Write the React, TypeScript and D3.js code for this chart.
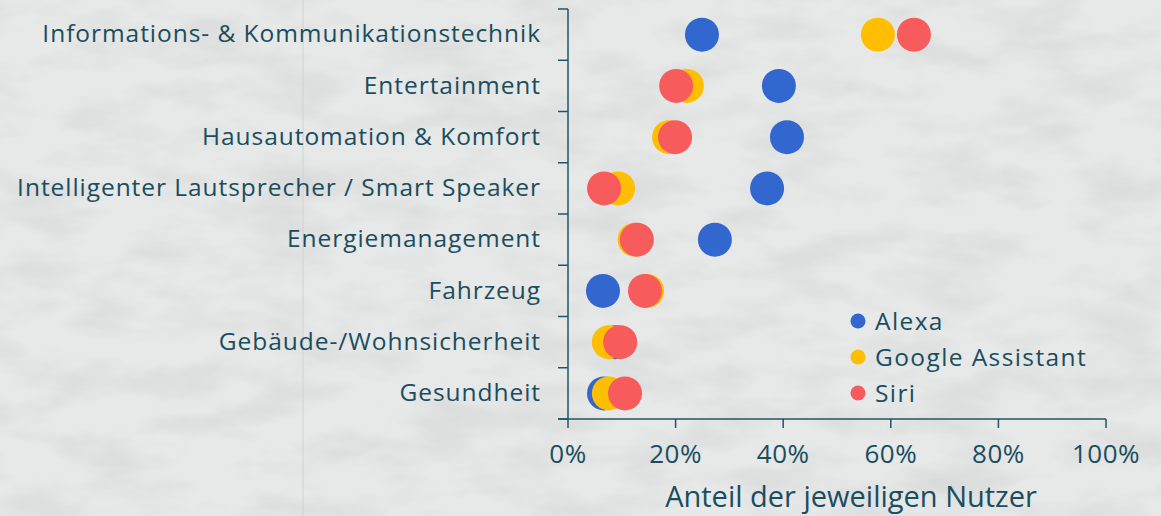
import React from "react";
import * as d3 from "d3";

const categories = [
  "Informations- & Kommunikationstechnik",
  "Entertainment",
  "Hausautomation & Komfort",
  "Intelligenter Lautsprecher / Smart Speaker",
  "Energiemanagement",
  "Fahrzeug",
  "Gebäude-/Wohnsicherheit",
  "Gesundheit",
];
const alexa = [24.9, 39.2, 40.7, 37.0, 27.3, 6.5, 8.8, 6.7];
const google = [57.6, 22.1, 18.8, 9.3, 12.4, 14.7, 7.6, 7.6];
const siri = [64.3, 20.1, 19.9, 6.7, 12.8, 14.3, 9.7, 10.6];
const seriesNames = ["Alexa", "Google Assistant", "Siri"];
const seriesColors = ["#3267cf", "#ffbf00", "#f75b5b"];
const xTicks = [0, 20, 40, 60, 80, 100];

const W = 1161;
const H = 516;
const TEXT = "#1a4d5e";
const AXIS = "#1f5666";
const FONT = "'Open Sans', Lato, sans-serif";

export default function App() {
  const x = d3.scaleLinear().domain([0, 100]).range([568, 1106]);
  const y = d3.scaleBand().domain(categories).range([9, 419]);
  const series = [alexa, google, siri];

  return (
    <div style={{ position: "fixed", left: 0, top: 0, width: W, height: H }}>
      <svg width={W} height={H} style={{ display: "block" }}>
        <defs>
          <filter id="paper" x="0" y="0" width="100%" height="100%">
            <feTurbulence type="fractalNoise" baseFrequency="0.012 0.03" numOctaves="4" seed="3" result="n" />
            <feColorMatrix type="matrix" values="0 0 0 0 0  0 0 0 0 0  0 0 0 0 0  0 0 0 -0.9 0.55" />
          </filter>
        </defs>
        <rect width={W} height={H} fill="#e7e8e8" />
        <rect width={W} height={H} filter="url(#paper)" opacity={0.12} />
        <line x1={303} x2={303} y1={0} y2={H} stroke="#d0d2d2" strokeWidth={1} />

        {/* left axis */}
        <line x1={568} x2={568} y1={9} y2={419} stroke={AXIS} strokeWidth={1.5} />
        {d3.range(categories.length + 1).map((i) => {
          const yy = 9 + i * y.step();
          return <line key={i} x1={558} x2={568} y1={yy} y2={yy} stroke={AXIS} strokeWidth={1.5} />;
        })}
        {categories.map((c) => (
          <text key={c} x={541} y={(y(c) as number) + y.bandwidth() / 2 + 7.7} textAnchor="end"
            fontFamily={FONT} fontSize={24.5} letterSpacing={0.95} fill={TEXT}>
            {c}
          </text>
        ))}

        {/* bottom axis */}
        <line x1={558} x2={1106} y1={419} y2={419} stroke={AXIS} strokeWidth={1.5} />
        {xTicks.map((t) => (
          <g key={t}>
            <line x1={x(t)} x2={x(t)} y1={419} y2={428} stroke={AXIS} strokeWidth={1.5} />
            <text x={x(t)} y={463} textAnchor="middle" fontFamily={FONT} fontSize={26} letterSpacing={0.5} fill={TEXT}>
              {t}%
            </text>
          </g>
        ))}
        <text x={851} y={507} textAnchor="middle" fontFamily={FONT} fontSize={29} fill={TEXT}>
          Anteil der jeweiligen Nutzer
        </text>

        {/* dots */}
        {series.map((vals, si) => (
          <g key={si}>
            {vals.map((v, i) => (
              <circle key={i} cx={x(v)} cy={(y(categories[i]) as number) + y.bandwidth() / 2}
                r={17} fill={seriesColors[si]} />
            ))}
          </g>
        ))}

        {/* legend */}
        {seriesNames.map((n, i) => (
          <g key={n} transform={`translate(858, ${321 + i * 36})`}>
            <circle cx={0} cy={0} r={7.5} fill={seriesColors[i]} />
            <text x={17} y={9} fontFamily={FONT} fontSize={24.5} letterSpacing={1.4} fill={TEXT}>
              {n}
            </text>
          </g>
        ))}
      </svg>
    </div>
  );
}
